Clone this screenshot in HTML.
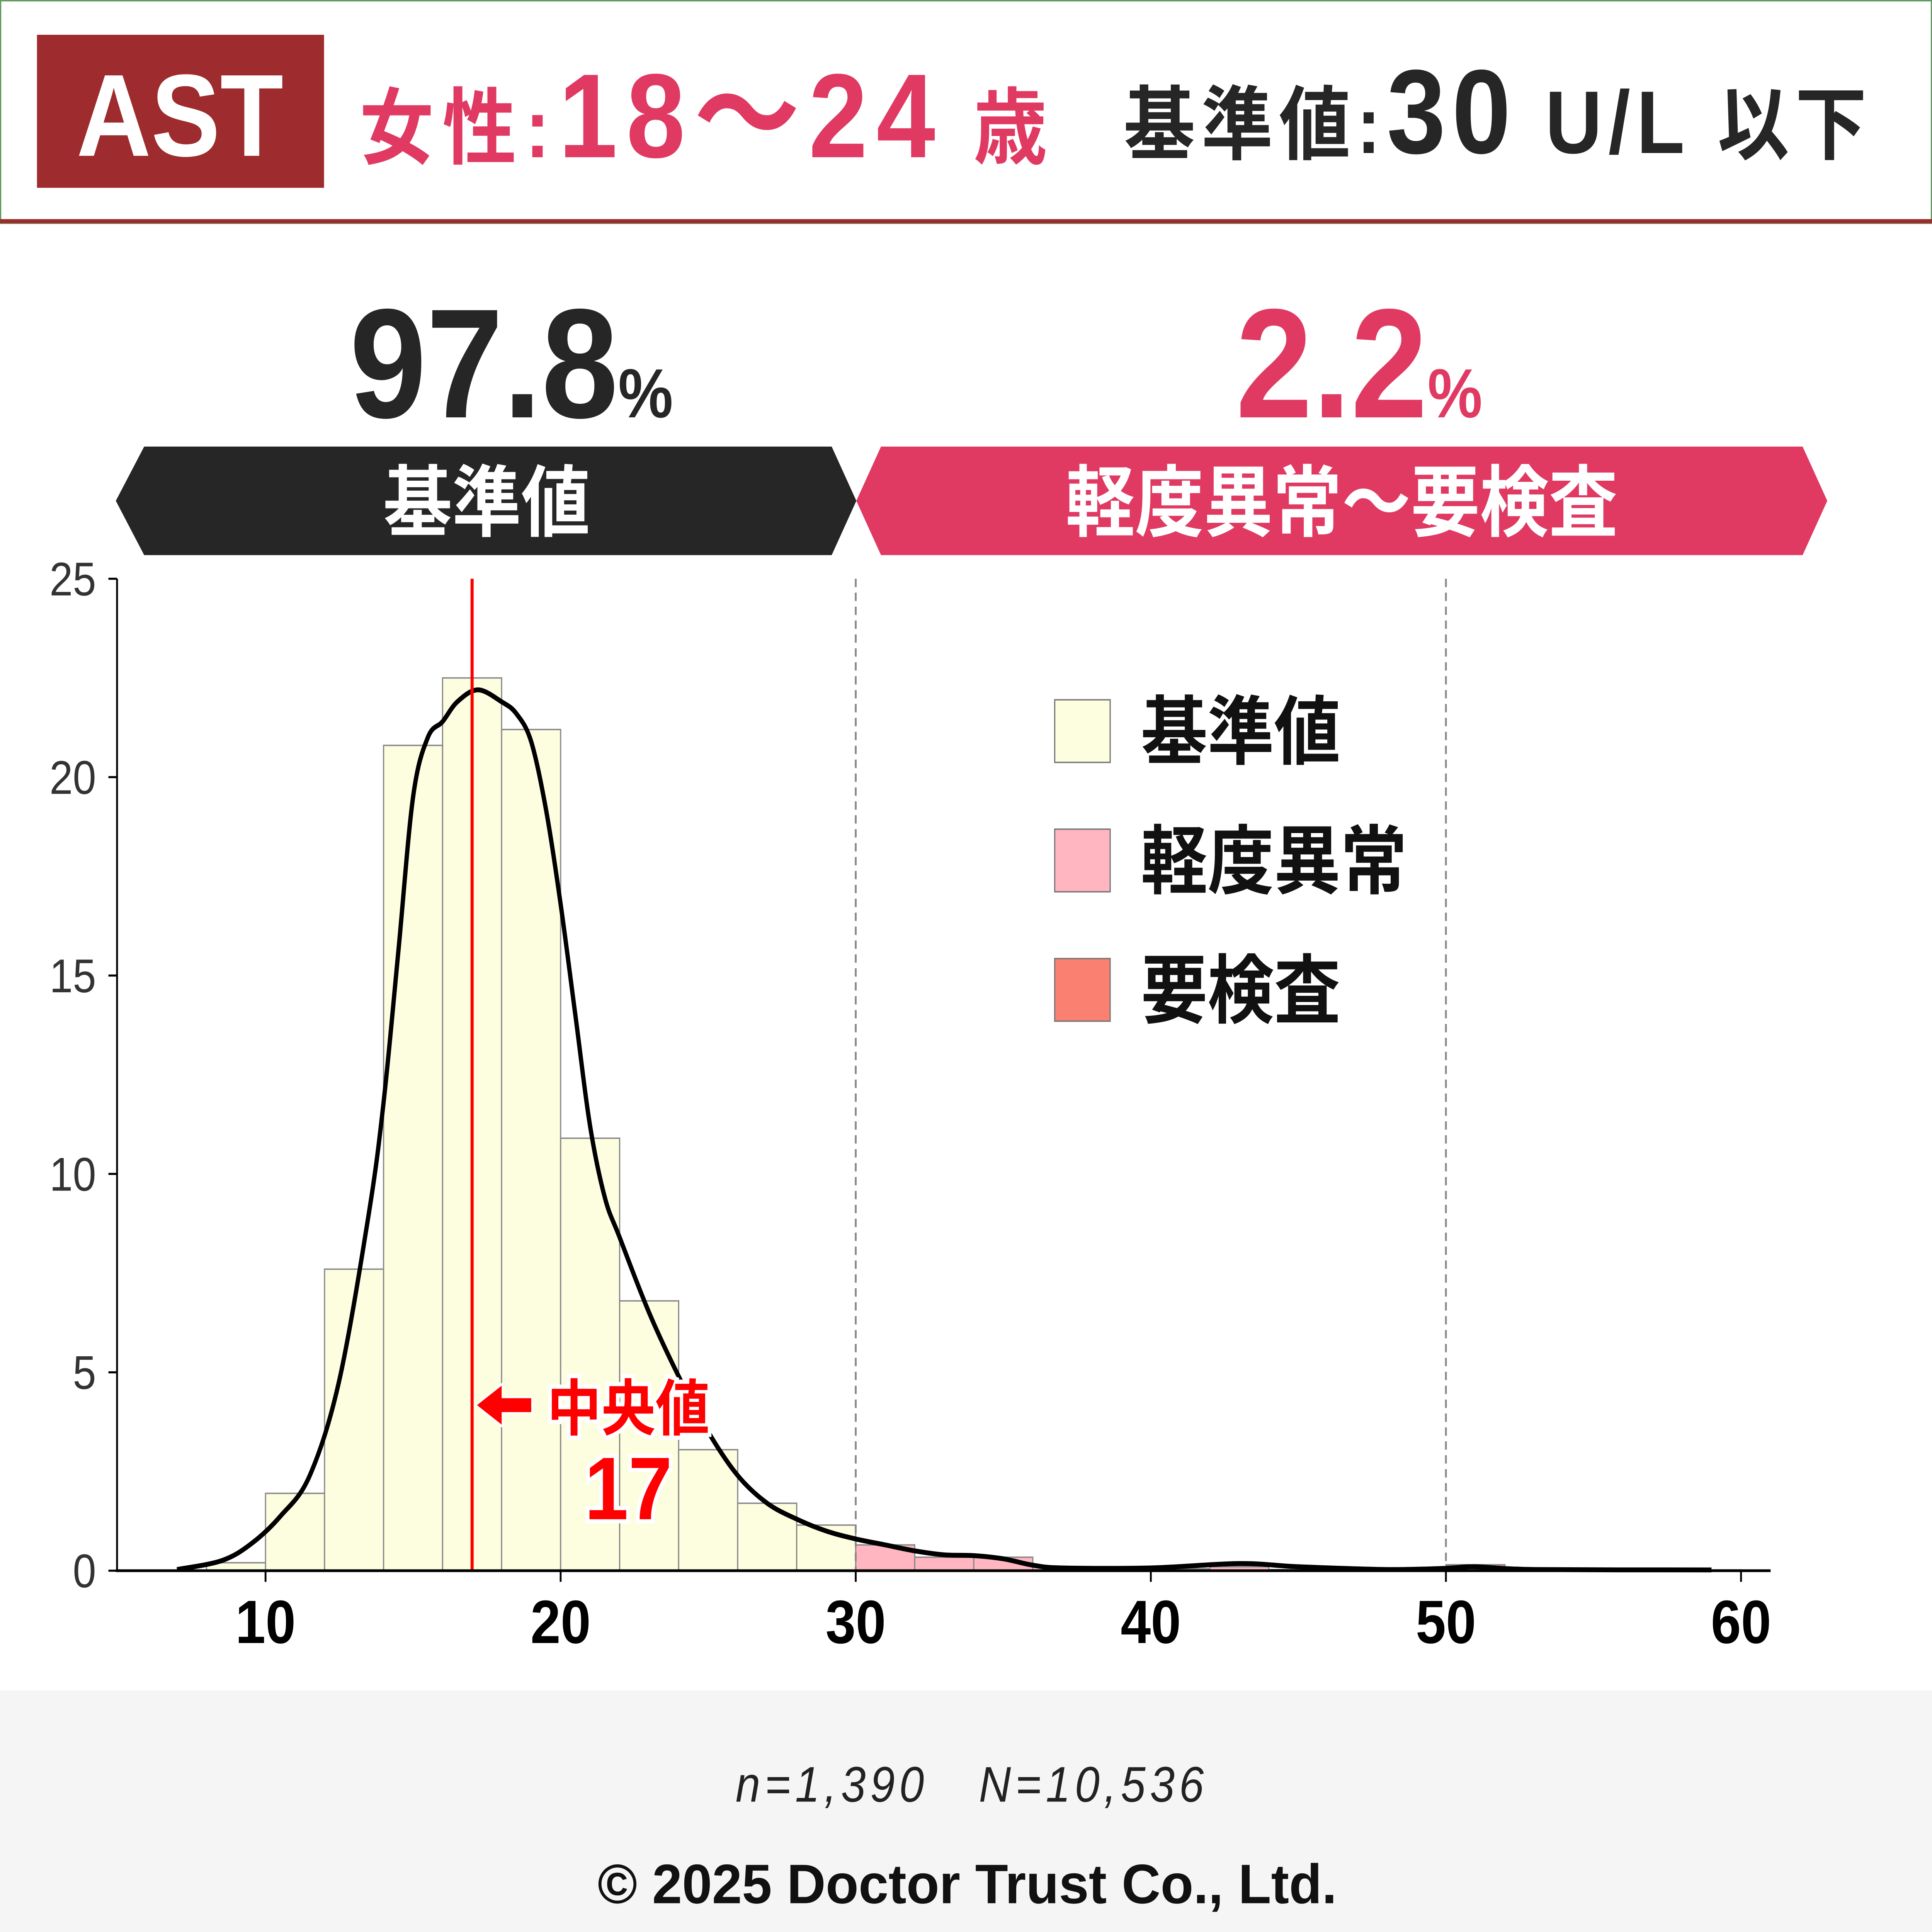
<!DOCTYPE html>
<html><head><meta charset="utf-8"><style>
html,body{margin:0;padding:0;background:#fff;width:100%;height:100%;overflow:hidden}
svg{display:block;width:100vw;height:100vh}
text{font-family:"Liberation Sans","Noto Sans CJK JP",sans-serif}
</style></head><body>
<svg id="chart" viewBox="0 0 1568 1388.7" preserveAspectRatio="none" xmlns="http://www.w3.org/2000/svg">
<rect x="0" y="0" width="1568" height="1388.7" fill="#fff"/>
<g>
<rect x="0.5" y="0.5" width="1567" height="160" fill="#fff" stroke="#5c9a5c" stroke-width="1"/>
<rect x="0" y="157.5" width="1568" height="3" fill="#9e2b2d"/>
<rect x="30" y="25" width="233" height="110" fill="#9e2b2d"/>
<text x="146" y="112" fill="#fff" font-size="84" font-weight="bold" text-anchor="middle">AST</text>
<text x="292" y="113" fill="#e03a63" font-weight="bold" textLength="558" lengthAdjust="spacing"><tspan font-size="60">女性:</tspan><tspan font-size="86">18～24</tspan><tspan font-size="60"> 歳</tspan></text>
<text x="912" y="110" fill="#262626" font-weight="bold" textLength="603" lengthAdjust="spacing"><tspan font-size="58">基準値:</tspan><tspan font-size="86">30</tspan><tspan font-size="64"> U/L </tspan><tspan font-size="58">以下</tspan></text>
</g>
<text x="415" y="300" fill="#262626" font-weight="bold" text-anchor="middle"><tspan font-size="112">97.8</tspan><tspan font-size="50">%</tspan></text>
<text x="1103" y="300" fill="#e03a63" font-weight="bold" text-anchor="middle"><tspan font-size="112">2.2</tspan><tspan font-size="50">%</tspan></text>
<polygon points="117,321 675,321 695,360 675,399 117,399 94,360" fill="#262626"/>
<text x="395" y="381" fill="#fff" font-size="56" font-weight="bold" text-anchor="middle">基準値</text>
<polygon points="715,321 1463,321 1483,360 1463,399 715,399 695,360" fill="#e03a63"/>
<text x="1089" y="381" fill="#fff" font-size="56" font-weight="bold" text-anchor="middle">軽度異常～要検査</text>
<g id="plot"></g>
<g>
<rect x="856" y="503" width="45" height="45" fill="#fdfde0" stroke="#777" stroke-width="1"/>
<text x="926" y="545" font-size="54" font-weight="bold" fill="#111">基準値</text>
<rect x="856" y="596" width="45" height="45" fill="#ffb6c1" stroke="#777" stroke-width="1"/>
<text x="926" y="638" font-size="54" font-weight="bold" fill="#111">軽度異常</text>
<rect x="856" y="689" width="45" height="45" fill="#fa8072" stroke="#777" stroke-width="1"/>
<text x="926" y="731" font-size="54" font-weight="bold" fill="#111">要検査</text>
</g>
<g>
<rect x="0" y="1215" width="1568" height="174" fill="#f5f5f5"/>
<text x="597" y="1295" font-size="36" font-style="italic" fill="#222" textLength="380" lengthAdjust="spacing">n=1,390&#160;&#160;&#160;N=10,536</text>
<text x="485" y="1368" font-size="40" font-weight="bold" fill="#111" textLength="600" lengthAdjust="spacingAndGlyphs">© 2025 Doctor Trust Co., Ltd.</text>
</g>
</svg>
<script>
const binStarts=[8,10,12,14,16,18,20,22,24,26,28,30,32,34,36,40,42,44,50,58];
const binValues=[0.2,1.95,7.6,20.8,22.5,21.2,10.9,6.8,3.05,1.7,1.15,0.65,0.34,0.34,0.1,0.05,0.1,0.03,0.15,0.02];
const kdeX=[7,8.5,9.5,10.5,11.5,12.5,13.5,14,14.5,15,15.5,16,16.5,17.2,18,18.5,19,19.5,20,20.5,21,21.5,22,23,24,25,26,27,28,29,30,31,32,33,34,35,36,37,40,43,45,48,50,51,53,59];
const kdeY=[0.03,0.25,0.67,1.37,2.4,4.8,9.0,11.8,15.6,19.5,21.0,21.4,21.9,22.2,21.9,21.6,20.9,19.2,16.8,14.0,11.2,9.4,8.4,6.5,4.9,3.5,2.4,1.7,1.3,1.0,0.8,0.65,0.5,0.4,0.38,0.3,0.14,0.07,0.07,0.18,0.1,0.03,0.06,0.1,0.03,0.02];
const xTicks=[10,20,30,40,50,60];
const yTicks=[0,5,10,15,20,25];
const medianValue=17;
const refLines=[30,50];
const binWidth=2;

const NS='http://www.w3.org/2000/svg';
const sx=v=>215.5+(v-10)*23.95;
const sy=v=>1129-v*28.52;
const plot=document.getElementById('plot');
function mk(tag,attrs,parent){const e=document.createElementNS(NS,tag);for(const k in attrs)e.setAttribute(k,attrs[k]);(parent||plot).appendChild(e);return e;}
function binColor(x){return x<30?'#fdfde0':(x<50?'#ffb6c1':'#fa8072');}

binStarts.forEach((b,i)=>{
  const r=mk('rect',{x:sx(b),y:sy(binValues[i]),width:sx(b+binWidth)-sx(b),height:sy(0)-sy(binValues[i]),fill:binColor(b),stroke:'#888','stroke-width':1});
  
  
});
refLines.forEach(v=>{
  const l=mk('line',{x1:sx(v),x2:sx(v),y1:sy(25),y2:sy(0),stroke:'#888','stroke-width':1.5,'stroke-dasharray':'6,4'});
  
  
});
const pts=kdeX.map((x,i)=>[sx(x),sy(kdeY[i])]);
let d='M'+pts[0][0]+','+pts[0][1];
for(let i=0;i<pts.length-1;i++){
  const p0=pts[Math.max(0,i-1)],p1=pts[i],p2=pts[i+1],p3=pts[Math.min(pts.length-1,i+2)];
  d+=' C'+(p1[0]+(p2[0]-p0[0])/6)+','+(p1[1]+(p2[1]-p0[1])/6)+' '+(p2[0]-(p3[0]-p1[0])/6)+','+(p2[1]-(p3[1]-p1[1])/6)+' '+p2[0]+','+p2[1];
}
const kde=mk('path',{d:d,fill:'none',stroke:'#000','stroke-width':3.5});


const med=mk('line',{x1:sx(medianValue),x2:sx(medianValue),y1:sy(25),y2:sy(0),stroke:'#ff0000','stroke-width':2.5});


const arr=mk('path',{d:`M${sx(medianValue)+4},1010 l20,-14 v9 h24 v10 h-24 v9 z`,fill:'#ff0000',stroke:'#fff','stroke-width':3,'paint-order':'stroke'});


const mt=mk('text',{x:510,y:1028,'font-size':44,'font-weight':'bold',fill:'#ff0000',stroke:'#fff','stroke-width':6,'paint-order':'stroke','text-anchor':'middle'});
mt.textContent='中央値';


const mv=mk('text',{x:510,y:1092,'font-size':64,'font-weight':'bold',fill:'#ff0000',stroke:'#fff','stroke-width':6,'paint-order':'stroke','text-anchor':'middle'});
mv.textContent=String(medianValue);


const ya=mk('line',{x1:95,x2:95,y1:sy(25),y2:sy(0)+1,stroke:'#000','stroke-width':1.5});


const xa=mk('line',{x1:94,x2:1437,y1:sy(0),y2:sy(0),stroke:'#000','stroke-width':2});


yTicks.forEach(v=>{
  mk('line',{x1:88,x2:95,y1:sy(v),y2:sy(v),stroke:'#000','stroke-width':1.5});
  const t=mk('text',{x:78,y:sy(v)+12,'font-size':34,fill:'#333','text-anchor':'end'});
  t.textContent=v;
  
  
});
xTicks.forEach(v=>{
  mk('line',{x1:sx(v),x2:sx(v),y1:sy(0),y2:sy(0)+8,stroke:'#000','stroke-width':1.5});
  const t=mk('text',{x:sx(v),y:1181,'font-size':44,'font-weight':'bold',fill:'#000','text-anchor':'middle'});
  t.textContent=v;
  
  
});
</script>
</body></html>
